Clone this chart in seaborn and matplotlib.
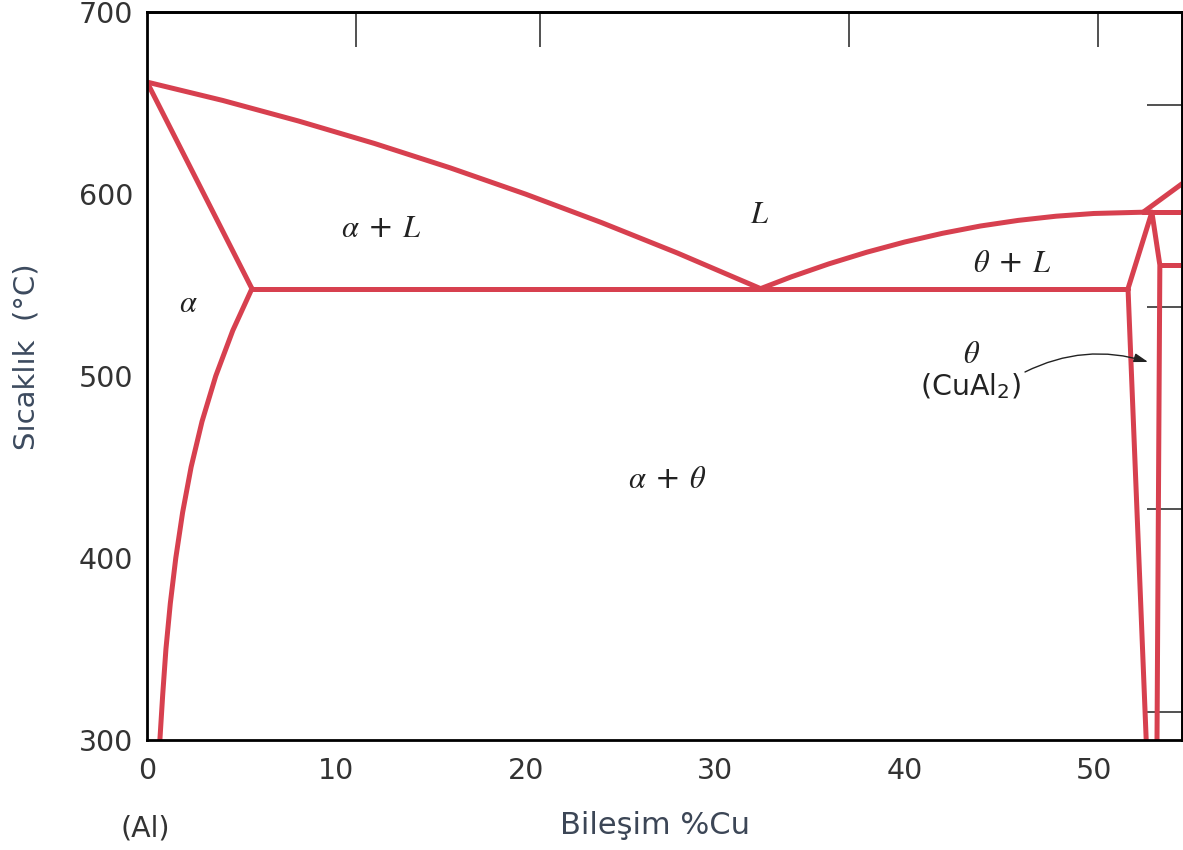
import numpy as np
import pandas as pd
import matplotlib
matplotlib.use("Agg")
import matplotlib.pyplot as plt
import seaborn as sns

# ---- data (wt% Cu, temperature in C) ----
liq_al_x = [0.0, 4.0, 8.0, 12.0, 16.0, 20.0, 24.0, 28.0, 32.4]
liq_al_t = [661.5, 651.4, 640.1, 627.8, 614.4, 599.9, 584.3, 567.6, 548]
sol_al_x = [0.0, 5.54]
sol_al_t = [661.5, 548]
solvus_x = [5.54, 4.53, 3.63, 2.905, 2.33, 1.88, 1.52, 1.23, 1.00, 0.83, 0.68]
solvus_t = [548, 525, 500, 475, 450, 425, 400, 375, 350, 325, 300]
eut_x = [5.54, 51.8]
eut_t = [548, 548]
liq_th_x = [32.4, 34.0, 36.0, 38.0, 40.0, 42.0, 44.0, 46.0, 48.0, 50.0, 52.6]
liq_th_t = [548, 554.4, 561.6, 568.0, 573.6, 578.4, 582.4, 585.5, 587.8, 589.3, 590]
peri_x = [52.6, 55.5]
peri_t = [590, 590]
liq_hi_x = [52.6, 54.7]
liq_hi_t = [590, 606]
th_left_x = [52.76, 51.8, 53.06]
th_left_t = [300, 548, 590]
th_right_x = [53.06, 53.48, 53.33]
th_right_t = [590, 561, 300]
th_hline_x = [53.48, 55.5]
th_hline_t = [561, 561]

segments = {
    "liq_al": (liq_al_x, liq_al_t), "sol_al": (sol_al_x, sol_al_t),
    "solvus": (solvus_x, solvus_t), "eut": (eut_x, eut_t),
    "liq_th": (liq_th_x, liq_th_t), "peri": (peri_x, peri_t),
    "liq_hi": (liq_hi_x, liq_hi_t), "th_left": (th_left_x, th_left_t),
    "th_right": (th_right_x, th_right_t), "th_h": (th_hline_x, th_hline_t),
}

x_ticks = [0, 10, 20, 30, 40, 50]
y_ticks = [300, 400, 500, 600, 700]
at_ticks = [5, 10, 20, 30]          # top axis, atomic % Cu
f_ticks = [600, 800, 1000, 1200]    # right axis, degrees F

rows = []
for name, (xs, ts) in segments.items():
    for i, (a, b) in enumerate(zip(xs, ts)):
        rows.append({"seg": name, "order": i, "x": a, "T": b})
df = pd.DataFrame(rows)

sns.set_theme(style="white")
plt.rcParams["font.family"] = ["DejaVu Sans"]
plt.rcParams["mathtext.fontset"] = "custom"
plt.rcParams["mathtext.rm"] = "DejaVu Sans"
plt.rcParams["mathtext.it"] = "STIXGeneral:italic"
plt.rcParams["mathtext.bf"] = "DejaVu Sans:bold"

RED = "#d7404f"
TXT = "#333333"
fig = plt.figure(figsize=(11.83, 8.5), dpi=100)
ax = fig.add_axes([147/1183, 1-740/850, 1035/1183, 728/850])

sns.lineplot(data=df, x="x", y="T", units="seg", estimator=None, sort=False,
             color=RED, lw=3.6, ax=ax, legend=False)

ax.set_xlim(0, 54.65)
ax.set_ylim(300, 700)
ax.set_xticks(x_ticks)
ax.set_yticks(y_ticks)
ax.tick_params(axis="both", direction="in", length=25, width=1.1, color="#222222",
               labelsize=20.5, labelcolor=TXT, pad=10)
ax.tick_params(axis="x", pad=12)
for s in ax.spines.values():
    s.set_visible(True)
    s.set_color("black")
    s.set_linewidth(2.0)

M_CU, M_AL = 63.55, 26.98
def at2wt(a):
    a = np.asarray(a, dtype=float)
    return 100 * a * M_CU / (a * M_CU + (100 - a) * M_AL)
def wt2at(w):
    w = np.asarray(w, dtype=float)
    return 100 * (w / M_CU) / (w / M_CU + (100 - w) / M_AL)

top = ax.secondary_xaxis("top", functions=(wt2at, at2wt))
top.set_xticks(at_ticks)
top.set_xticklabels([""] * len(at_ticks))
top.tick_params(direction="in", length=25, width=1.1, color="#222222")
top.spines["top"].set_linewidth(2.0)

sec = ax.secondary_yaxis("right", functions=(lambda c: c * 9 / 5 + 32, lambda f: (f - 32) * 5 / 9))
sec.set_yticks(f_ticks)
sec.set_yticklabels([""] * len(f_ticks))
sec.tick_params(direction="in", length=25, width=1.1, color="#222222")
sec.spines["right"].set_linewidth(2.0)

ax.set_xlabel("Bileşim %Cu", fontsize=22, color="#3c4656", va="center")
ax.xaxis.set_label_coords(0.491, -0.118)
ax.set_ylabel("Sıcaklık  (°C)", fontsize=21, color="#3c4a5e", va="center")
ax.yaxis.set_label_coords(-0.116, 0.527)
ax.text(-0.002, -0.121, "(Al)", transform=ax.transAxes, fontsize=20.5, color=TXT,
        ha="center", va="center")

gk = dict(fontsize=22, color="#222222", ha="center", va="baseline")
ax.text(12.36, 576.4, r"$\alpha$ + $L$", **gk)
ax.text(32.37, 584, r"$L$", **gk)
ax.text(45.7, 557.1, r"$\theta$ + $L$", **gk)
ax.text(2.16, 535.2, r"$\alpha$", **gk)
ax.text(27.5, 438.5, r"$\alpha$ + $\theta$", **gk)
ax.text(43.56, 507, r"$\theta$", **gk)
ax.text(43.48, 489.6, r"(CuAl$_2$)", fontsize=20.5, color="#222222", ha="center", va="baseline")

ax.annotate("", xy=(52.86, 507.7), xytext=(46.36, 502.2),
            arrowprops=dict(arrowstyle="-|>,head_length=0.7,head_width=0.22", lw=1.0,
                            color="#222222", connectionstyle="arc3,rad=-0.2",
                            shrinkA=0, shrinkB=0))

fig.savefig("out.png", dpi=100)
